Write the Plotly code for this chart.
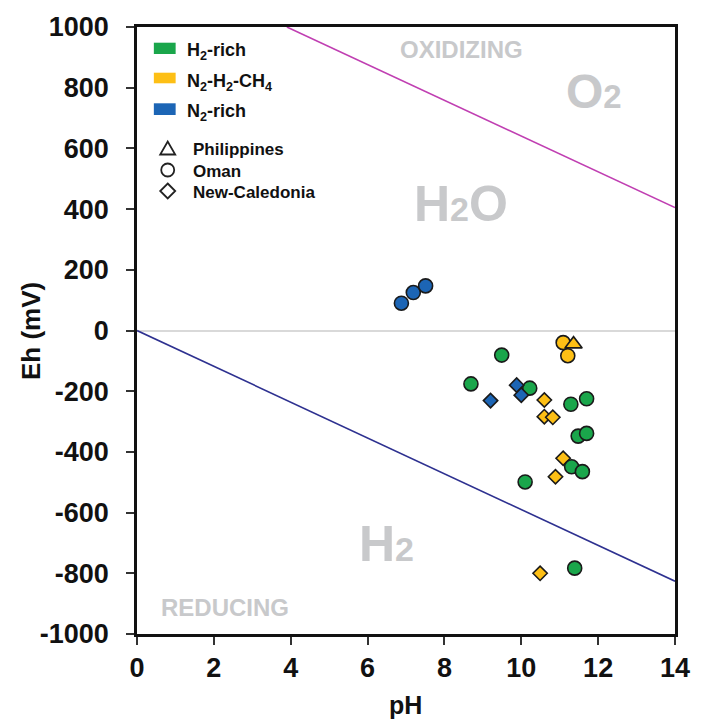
import plotly.graph_objects as go

# ---- Data: pH and Eh (mV) of spring waters, grouped by gas type and site ----
# H2-rich, Oman (circles)
h2_oman_ph = [9.49, 8.69, 10.22, 11.29, 11.70, 11.48, 11.70, 11.31, 11.59, 10.10, 11.39]
h2_oman_eh = [-81, -176, -190, -243, -225, -348, -339, -449, -465, -499, -783]

# N2-H2-CH4, Oman (circles)
mix_oman_ph = [11.09, 11.21]
mix_oman_eh = [-40, -83]

# N2-H2-CH4, Philippines (triangle)
mix_phil_ph = [11.36]
mix_phil_eh = [-45]

# N2-H2-CH4, New-Caledonia (diamonds)
mix_nc_ph = [10.60, 10.60, 10.82, 11.09, 10.89, 10.49]
mix_nc_eh = [-229, -284, -286, -421, -482, -800]

# N2-rich, Oman (circles)
n2_oman_ph = [6.88, 7.19, 7.51]
n2_oman_eh = [90, 125, 147]

# N2-rich, New-Caledonia (diamonds)
n2_nc_ph = [9.20, 9.88, 10.00]
n2_nc_eh = [-231, -180, -213]

# Water stability limits (end points)
o2_line_ph = [3.9, 14]
o2_line_eh = [1000, 405]
h2_line_ph = [0, 14]
h2_line_eh = [0, -826]

x_ticks = [0, 2, 4, 6, 8, 10, 12, 14]
y_ticks = [-1000, -800, -600, -400, -200, 0, 200, 400, 600, 800, 1000]
y_tick_text = [str(v) for v in y_ticks]  # plain hyphen for negatives

GREEN = "#1aa64b"
YELLOW = "#fdbf15"
BLUE = "#1c65b5"
GREY_TXT = "#c8c9cb"
FONT = "Liberation Sans, Arial, sans-serif"

W, H = 702, 724
L, R, T, B = 137, 22, 27, 90
PW, PH = W - L - R, H - T - B


def paper(px, py):
    """Convert page pixel position to paper coordinates."""
    return (px - L) / PW, (H - B - py) / PH


fig = go.Figure()

# boundary lines
fig.add_trace(go.Scatter(x=o2_line_ph, y=o2_line_eh, mode="lines",
                         line=dict(color="#c03fb2", width=1.6),
                         hoverinfo="skip", showlegend=False))
fig.add_trace(go.Scatter(x=h2_line_ph, y=h2_line_eh, mode="lines",
                         line=dict(color="#2e3190", width=1.6),
                         hoverinfo="skip", showlegend=False))

outline = dict(color="#1a1a1a", width=1.6)


def pts(x, y, color, symbol, size):
    fig.add_trace(go.Scatter(
        x=x, y=y, mode="markers", showlegend=False,
        marker=dict(color=color, symbol=symbol, size=size, line=outline)))


pts(mix_nc_ph, mix_nc_eh, YELLOW, "diamond", 11)
pts(h2_oman_ph, h2_oman_eh, GREEN, "circle", 14)
pts(n2_nc_ph, n2_nc_eh, BLUE, "diamond", 11)
pts(mix_oman_ph, mix_oman_eh, YELLOW, "circle", 14)
pts(mix_phil_ph, mix_phil_eh, YELLOW, "triangle-up", 15)
pts(n2_oman_ph, n2_oman_eh, BLUE, "circle", 14)

annotations = []

# region labels
def region(text, x, y, size):
    annotations.append(dict(x=x, y=y, xref="x", yref="y", text=text,
                            showarrow=False, xanchor="center",
                            yanchor="middle",
                            font=dict(family=FONT, size=size, color=GREY_TXT,
                                      weight="bold")))


region("OXIDIZING", 8.45, 927, 24)
region("REDUCING", 2.30, -914, 24)
region("O<span style='font-size:33px'>2</span>", 11.88, 786, 48)
region("H<span style='font-size:34px'>2</span>O", 8.43, 418, 50)
region("H<span style='font-size:34px'>2</span>", 6.50, -703, 50)

# gas-type key: colour patches
shapes = []
for color, y0, y1, label, ty in [
        (GREEN, 42.7, 54.0, "H<sub>2</sub>-rich", 49.5),
        (YELLOW, 72.7, 83.3, "N<sub>2</sub>-H<sub>2</sub>-CH<sub>4</sub>", 80),
        (BLUE, 103.3, 115.0, "N<sub>2</sub>-rich", 110)]:
    x0p, y0p = paper(154, y1)
    x1p, y1p = paper(176, y0)
    shapes.append(dict(type="rect", xref="paper", yref="paper",
                       x0=x0p, x1=x1p, y0=y0p, y1=y1p,
                       fillcolor=color, line=dict(width=0)))
    tx, typ = paper(185, ty + 2)
    annotations.append(dict(x=tx, y=typ, xref="paper", yref="paper",
                            text=label, showarrow=False, xanchor="left",
                            yanchor="middle",
                            font=dict(family=FONT, size=18, color="#111111",
                                      weight="bold")))

# site key: open symbols (paths in pixels, y pointing up)
sym_line = dict(color="#222222", width=1.8)
for path, label, cy in [
        ("M -7.5 -6 L 7.5 -6 L 0 7 Z", "Philippines", 148.5),
        (None, "Oman", 170),
        ("M 0 7.5 L 7.5 0 L 0 -7.5 L -7.5 0 Z", "New-Caledonia", 191)]:
    ax, ay = paper(168, cy)
    if path is None:
        shapes.append(dict(type="circle", xref="paper", yref="paper",
                           xsizemode="pixel", ysizemode="pixel",
                           xanchor=ax, yanchor=ay,
                           x0=-6.5, x1=6.5, y0=-6.5, y1=6.5,
                           line=sym_line, fillcolor="rgba(0,0,0,0)"))
    else:
        shapes.append(dict(type="path", xref="paper", yref="paper",
                           xsizemode="pixel", ysizemode="pixel",
                           xanchor=ax, yanchor=ay, path=path,
                           line=sym_line, fillcolor="rgba(0,0,0,0)"))
    tx, typ = paper(192, cy + 1)
    annotations.append(dict(x=tx, y=typ, xref="paper", yref="paper",
                            text=label, showarrow=False, xanchor="left",
                            yanchor="middle",
                            font=dict(family=FONT, size=17, color="#111111",
                                      weight="bold")))

# axis titles
tx, ty = paper(30, 331)
annotations.append(dict(x=tx, y=ty, xref="paper", yref="paper", text="Eh (mV)",
                        textangle=-90, showarrow=False,
                        xanchor="center", yanchor="middle",
                        font=dict(family=FONT, size=26, color="#111111",
                                  weight="bold")))
tx, ty = paper(408, 705)
annotations.append(dict(x=tx, y=ty, xref="paper", yref="paper", text="pH",
                        showarrow=False, xanchor="center", yanchor="middle",
                        font=dict(family=FONT, size=25, color="#111111",
                                  weight="bold")))

axis_common = dict(
    showline=True, linecolor="#111111", linewidth=2.5, mirror=True,
    showgrid=False, ticks="outside", ticklen=8, tickwidth=1.5,
    tickcolor="#333333",
    tickfont=dict(family=FONT, size=27, color="#111111", weight="bold"),
)

fig.update_layout(
    width=W, height=H,
    margin=dict(l=L, r=R, t=T, b=B),
    paper_bgcolor="white", plot_bgcolor="white",
    xaxis=dict(range=[0, 14], tickvals=x_ticks, zeroline=False,
               **axis_common),
    yaxis=dict(range=[-1000, 1000], tickvals=y_ticks, ticktext=y_tick_text,
               ticklabelstandoff=12, zeroline=True,
               zerolinecolor="#d9d9d9", zerolinewidth=2, **axis_common),
    shapes=shapes,
    annotations=annotations,
)

fig.write_html("out.html")
